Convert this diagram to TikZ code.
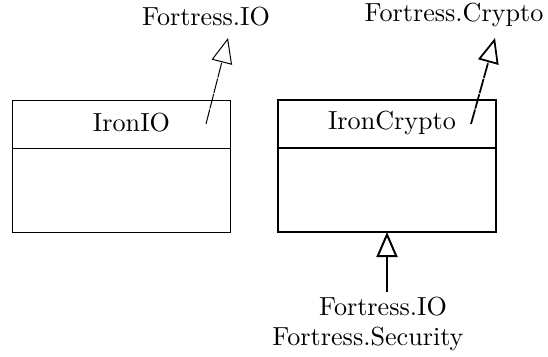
\documentclass[tikz,border=0pt]{standalone}
\usetikzlibrary{arrows.meta,positioning}

\tikzset{
	classhead/.style={draw, minimum width=86.8pt, minimum height=19.2pt, inner sep=0pt, outer sep=0pt},
	classbody/.style={draw, minimum width=86.8pt, minimum height=33.6pt, inner sep=0pt, outer sep=0pt},
	inherits/.style={-{Triangle[open,length=10pt,width=8.4pt]}},
	refline/.style={inherits, dash pattern=on 6pt off 0.4pt},
	every node/.style={font=\fontsize{10.45pt}{13pt}\selectfont}
}

\begin{document}
\begin{tikzpicture}[x=0.4pt,y=-0.4pt]
	\useasboundingbox (0,0) rectangle (548,356);

	% IronIO
	\node[classhead, thin] (ioHead) at (121.5,124) {};
	\node[classbody, thin, below=0pt of ioHead] (ioBody) {};
	\node (ioName) at (131.5,123) {IronIO};

	% IronCrypto
	\node[classhead, line width=0.8pt] (cryHead) at (387,124) {};
	\node[classbody, line width=0.8pt, below=0pt of cryHead] (cryBody) {};
	\node (cryName) at (392,123) {IronCrypto};

	% imported packages
	\node (pkgIO) at (206,17) {Fortress.IO};
	\node (pkgCrypto) at (454,15) {Fortress.Crypto};
	\node (useIO) at (383,307) {Fortress.IO};
	\node (useSec) at (368,339) {Fortress.Security};

	\coordinate (ioFrom) at (206,124);
	\coordinate (ioTip) at (228,38);
	\coordinate (cryFrom) at (471,124);
	\coordinate (cryTip) at (495,38);
	\coordinate (useFrom) at (387,292);

	\draw[refline, thin] (ioFrom) -- (ioTip);
	\draw[refline, line width=0.7pt] (cryFrom) -- (cryTip);
	\draw[inherits, line width=0.8pt] (useFrom) -- (cryBody.south);
\end{tikzpicture}
\end{document}
